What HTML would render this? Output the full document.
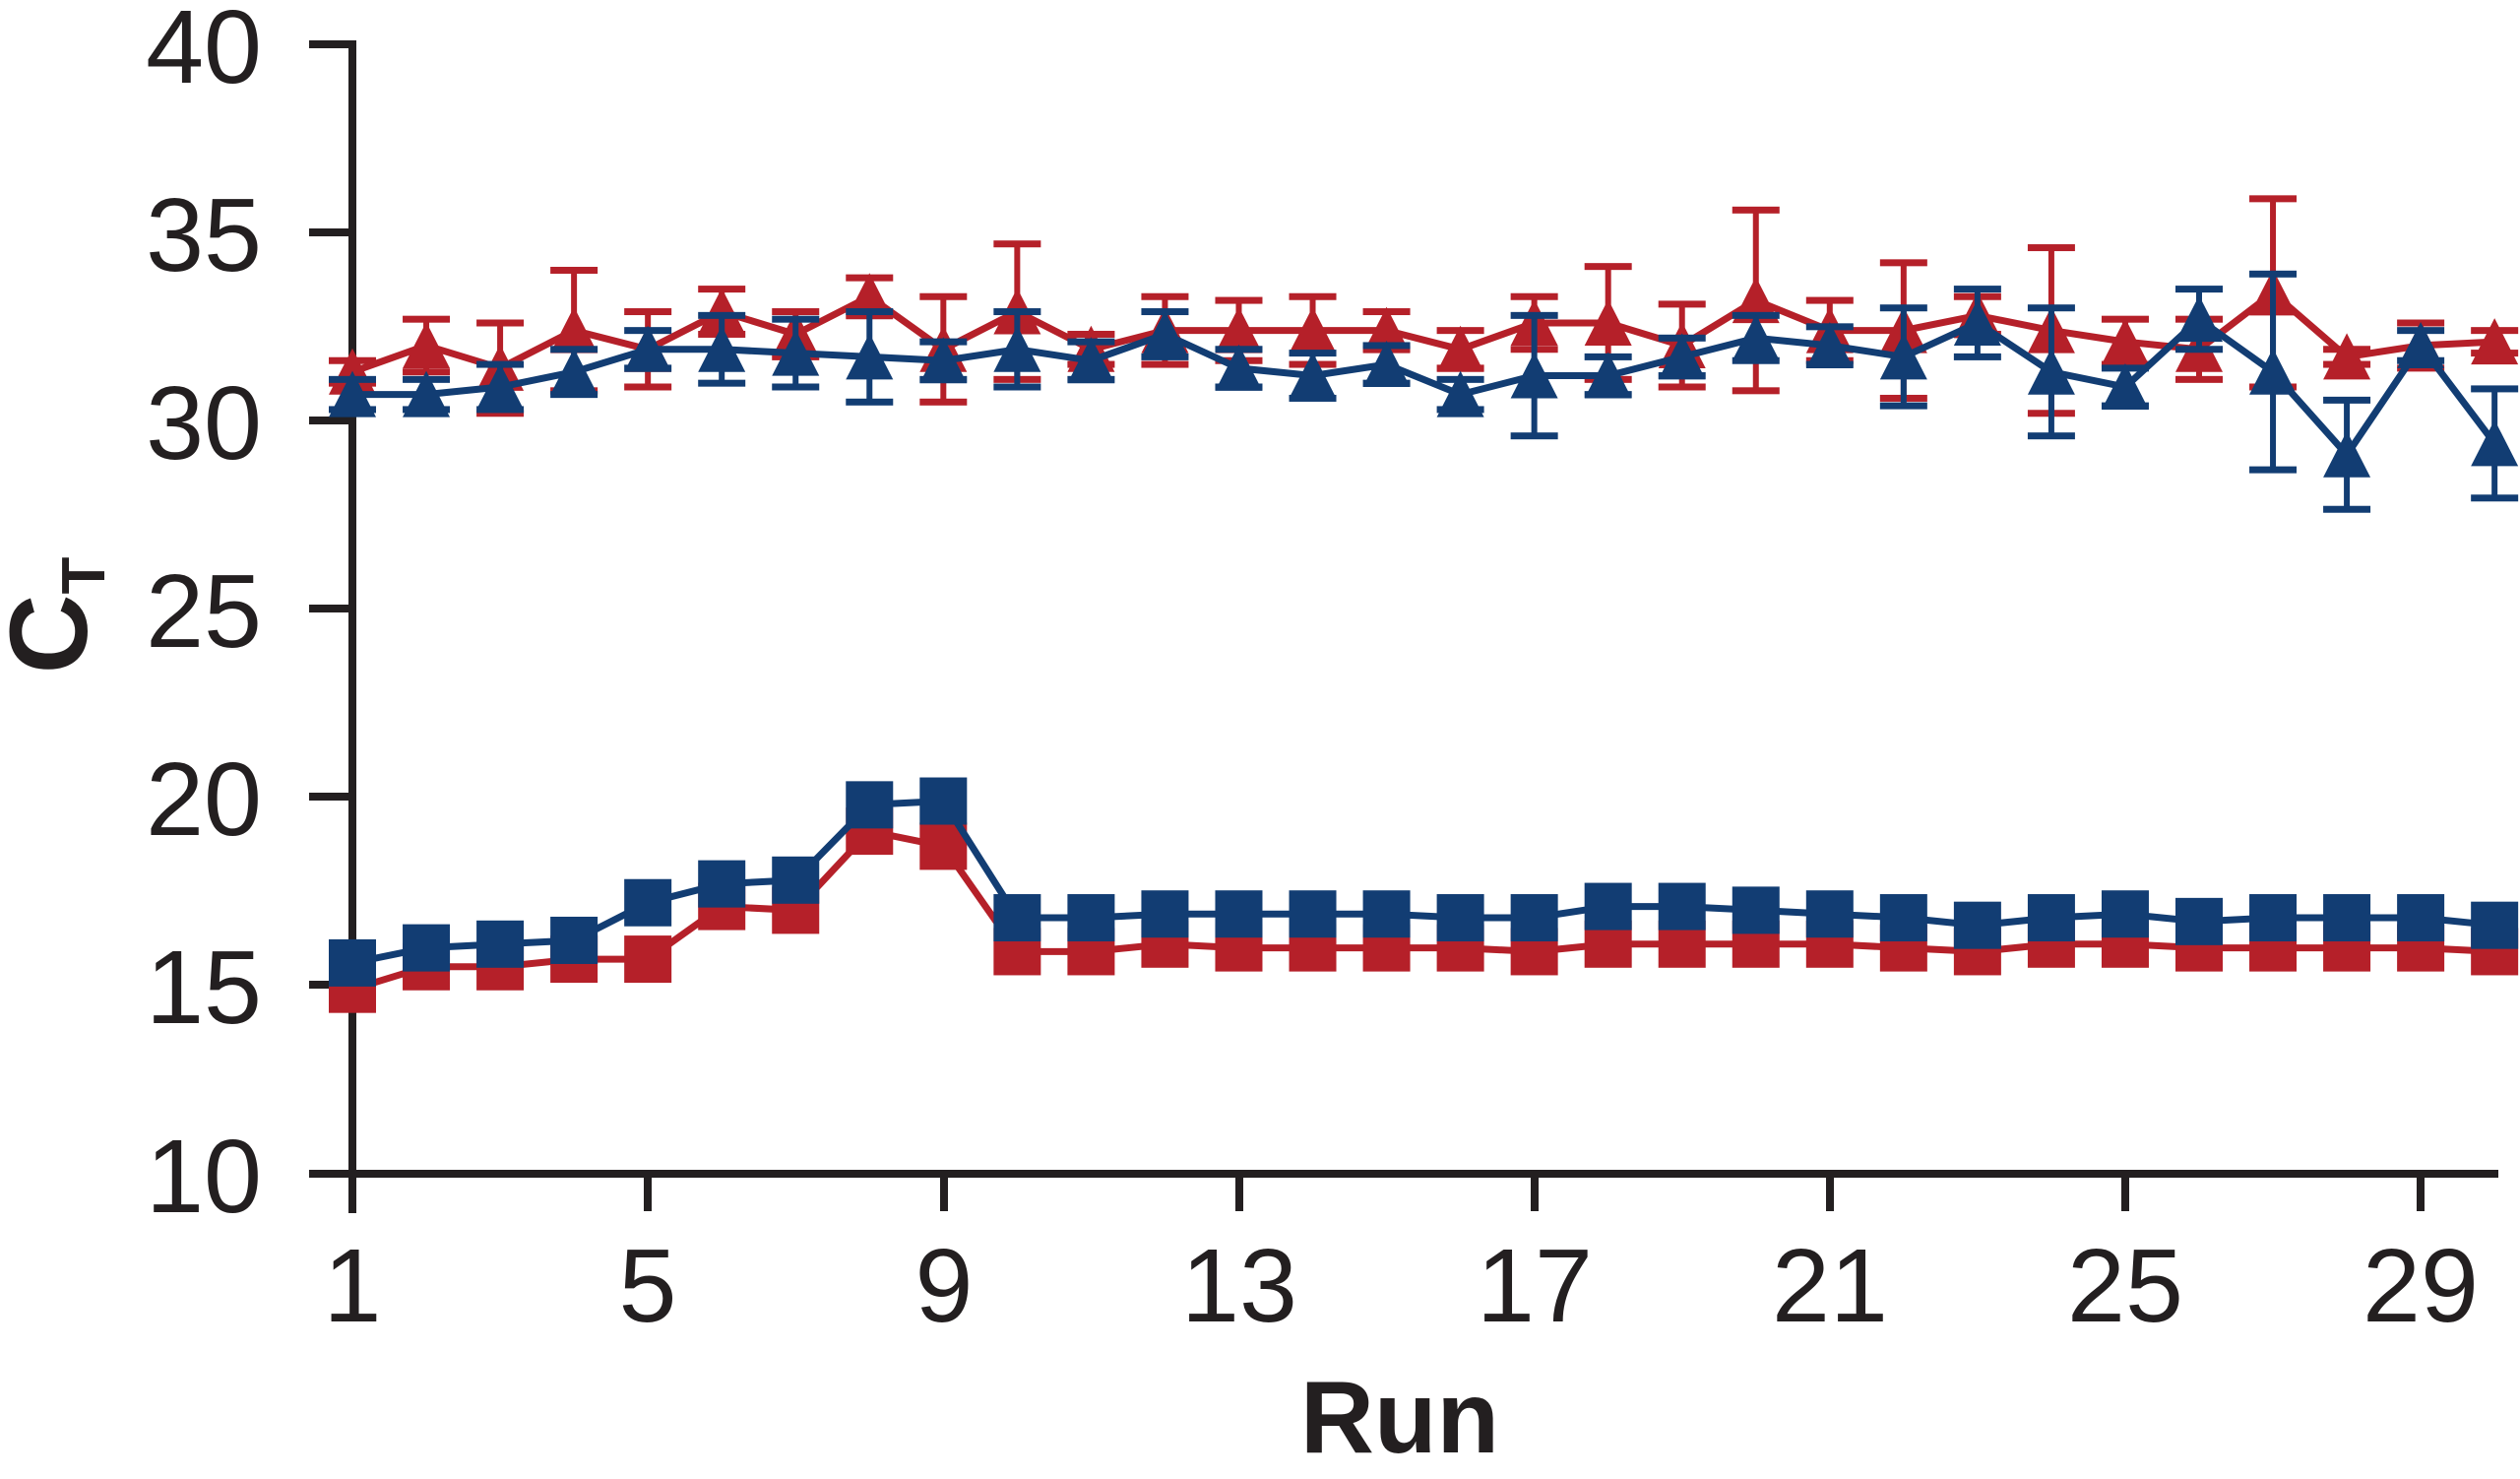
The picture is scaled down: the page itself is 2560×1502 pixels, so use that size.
<!DOCTYPE html>
<html><head><meta charset="utf-8"><style>
html,body{margin:0;padding:0;background:#fff;}
svg{display:block;}
text{font-family:"Liberation Sans",sans-serif;fill:#231f20;}
</style></head><body>
<svg id="s" width="2560" height="1502" viewBox="0 0 2560 1502" xmlns="http://www.w3.org/2000/svg">
<g stroke="#231f20" stroke-width="8" fill="none">
<line x1="358" y1="41" x2="358" y2="1232"/>
<line x1="354" y1="1192" x2="2538" y2="1192"/>
<line x1="314" y1="45" x2="358" y2="45"/>
<line x1="314" y1="236" x2="358" y2="236"/>
<line x1="314" y1="427" x2="358" y2="427"/>
<line x1="314" y1="618" x2="358" y2="618"/>
<line x1="314" y1="809" x2="358" y2="809"/>
<line x1="314" y1="1000" x2="358" y2="1000"/>
<line x1="314" y1="1192" x2="358" y2="1192"/>
<line x1="658" y1="1192" x2="658" y2="1230"/>
<line x1="959" y1="1192" x2="959" y2="1230"/>
<line x1="1259" y1="1192" x2="1259" y2="1230"/>
<line x1="1559" y1="1192" x2="1559" y2="1230"/>
<line x1="1859" y1="1192" x2="1859" y2="1230"/>
<line x1="2159" y1="1192" x2="2159" y2="1230"/>
<line x1="2459" y1="1192" x2="2459" y2="1230"/>
</g>
<g font-size="106" text-anchor="end">
<text x="266" y="84">40</text>
<text x="266" y="275">35</text>
<text x="266" y="466">30</text>
<text x="266" y="657">25</text>
<text x="266" y="848">20</text>
<text x="266" y="1039">15</text>
<text x="266" y="1231">10</text>
</g>
<g font-size="106" text-anchor="middle">
<text x="358" y="1342">1</text>
<text x="658" y="1342">5</text>
<text x="959" y="1342">9</text>
<text x="1259" y="1342">13</text>
<text x="1559" y="1342">17</text>
<text x="1859" y="1342">21</text>
<text x="2159" y="1342">25</text>
<text x="2459" y="1342">29</text>
</g>
<text x="1422" y="1475" font-size="104" font-weight="bold" text-anchor="middle">Run</text>
<g transform="translate(88,625) rotate(-90)"><text x="0" y="0" font-size="112" font-weight="bold" text-anchor="middle">C<tspan font-size="62" dy="18">T</tspan></text></g>
<g id="d"></g>
</svg>
<script>
var X=function(r){return 358+(r-1)*75.04;},Y=function(v){return 1192-(v-10)*38.23;};
var rt=[31.3,32.0,31.4,32.4,31.9,32.9,32.3,33.3,31.9,32.9,31.9,32.4,32.4,32.4,32.4,31.9,32.6,32.6,32.0,33.2,32.4,32.4,32.8,32.4,32.1,31.9,33.4,31.7,32.0,32.1];
var re=[0.3,0.7,1.2,1.6,1.0,0.6,0.6,0.5,1.4,1.8,0.4,0.9,0.8,0.9,0.5,0.5,0.7,1.5,1.1,2.4,0.8,1.8,0.5,2.2,0.6,0.8,2.5,0.2,0.6,0.3];
var bt=[30.7,30.7,30.9,31.3,31.9,31.9,31.8,31.7,31.6,31.9,31.6,32.3,31.4,31.2,31.5,30.7,31.2,31.2,31.7,32.2,32.0,31.7,32.6,31.3,30.9,32.7,31.3,29.1,32.0,29.4];
var be=[0.4,0.4,0.6,0.6,0.5,0.9,0.9,1.2,0.5,1.0,0.5,0.6,0.5,0.6,0.5,0.4,1.6,0.5,0.5,0.6,0.5,1.3,0.9,1.7,0.5,0.8,2.6,1.45,0.4,1.45];
var bs=[15.6,16.0,16.1,16.2,17.2,17.7,17.8,19.8,19.9,16.8,16.8,16.9,16.9,16.9,16.9,16.8,16.8,17.1,17.1,17.0,16.9,16.8,16.6,16.8,16.9,16.7,16.8,16.8,16.8,16.6];
var rs=[14.9,15.5,15.5,15.7,15.7,17.1,17.0,19.1,18.7,15.9,15.9,16.1,16.0,16.0,16.0,16.0,15.9,16.1,16.1,16.1,16.1,16.0,15.9,16.1,16.1,16.0,16.0,16.0,16.0,15.9];
var R="#b52029",B="#123d73",h="";
function ser(v,e,c,tri){
 var p=v.map(function(a,i){return X(i+1).toFixed(1)+","+Y(a).toFixed(1)}).join(" ");
 if(e){v.forEach(function(a,i){var x=X(i+1),y1=Y(a+e[i]),y2=Y(a-e[i]);
  h+='<line x1="'+x+'" y1="'+y1+'" x2="'+x+'" y2="'+y2+'" stroke="'+c+'" stroke-width="6"/>';
  h+='<rect x="'+(x-24)+'" y="'+(y1-3.5)+'" width="48" height="7" fill="'+c+'"/>';
  h+='<rect x="'+(x-24)+'" y="'+(y2-3.5)+'" width="48" height="7" fill="'+c+'"/>';});}
 h+='<polyline points="'+p+'" fill="none" stroke="'+c+'" stroke-width="7" stroke-linejoin="miter"/>';
 v.forEach(function(a,i){var x=X(i+1),y=Y(a);
  if(tri)h+='<polygon points="'+(x-24)+','+(y+23)+' '+(x+24)+','+(y+23)+' '+x+','+(y-24)+'" fill="'+c+'"/>';
  else h+='<rect x="'+(x-24)+'" y="'+(y-24)+'" width="48" height="48" fill="'+c+'"/>';});
}
ser(rt,re,R,1);ser(bt,be,B,1);ser(rs,null,R,0);ser(bs,null,B,0);
document.getElementById("d").innerHTML=h;
</script>
</body></html>
